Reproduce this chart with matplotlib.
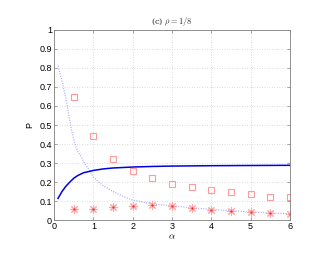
import matplotlib
matplotlib.use("Agg")
import matplotlib.pyplot as plt

# solid curve
sol_x = [0.1, 0.2, 0.3, 0.4, 0.5, 0.6, 0.75, 1.0, 1.25, 1.5, 2.0, 2.5, 3.0, 4.0, 5.0, 6.0]
sol_y = [0.114, 0.15, 0.178, 0.2, 0.22, 0.234, 0.249, 0.261, 0.269, 0.274, 0.279, 0.282, 0.284, 0.286, 0.287, 0.288]

# dotted curve
dot_x = [0.1, 0.2, 0.3, 0.4, 0.5, 0.6, 0.7, 0.8, 0.9, 1.0, 1.25, 1.5, 1.75, 2.0, 2.5, 3.0, 3.5, 4.0, 4.5, 5.0, 5.5, 6.0]
dot_y = [0.81, 0.73, 0.64, 0.52, 0.42, 0.36, 0.33, 0.29, 0.26, 0.225, 0.18, 0.15, 0.125, 0.105, 0.085, 0.075,
         0.065, 0.056, 0.049, 0.043, 0.038, 0.033]

# markers
alpha = [0.5, 1.0, 1.5, 2.0, 2.5, 3.0, 3.5, 4.0, 4.5, 5.0, 5.5, 6.0]
squares = [0.645, 0.44, 0.32, 0.258, 0.22, 0.19, 0.174, 0.158, 0.147, 0.138, 0.123, 0.12]
stars = [0.06, 0.058, 0.067, 0.072, 0.079, 0.074, 0.063, 0.053, 0.047, 0.042, 0.037, 0.032]

plt.rcParams["mathtext.fontset"] = "cm"
plt.rcParams["font.family"] = "Liberation Sans"

fig = plt.figure(figsize=(3.34, 2.58), dpi=100)
ax = fig.add_axes([0.162, 0.147, 0.706, 0.737])

ax.plot(dot_x, dot_y, color="#a8a8ff", linestyle=(0, (0.8, 1.2)), linewidth=0.9)
ax.plot(sol_x, sol_y, color="#0000e0", linewidth=1.1)
ax.plot(alpha, squares, linestyle="none", marker="s", markersize=5,
        markerfacecolor="none", markeredgecolor="#ff9a9a", markeredgewidth=0.8)
ax.plot(alpha, stars, linestyle="none", marker=(8, 2, 0), markersize=6,
        color="#ffaaaa", markeredgewidth=0.8)
ax.plot(alpha, stars, linestyle="none", marker="o", markersize=1.6,
        color="#e03030", markeredgewidth=0)

ax.set_xlim(0, 6)
ax.set_ylim(0, 1)
ax.set_xticks(range(0, 7))
ax.set_yticks([i / 10 for i in range(11)])
ax.set_yticklabels(["0", "0.1", "0.2", "0.3", "0.4", "0.5", "0.6", "0.7", "0.8", "0.9", "1"])
ax.tick_params(direction="in", length=2.5, width=0.5, labelsize=6.5, pad=1.5,
               top=True, right=True, colors="#808080", labelcolor="black")
ax.grid(True, linestyle=(0, (1, 2)), color="#d0d0d0", linewidth=0.6)
for s in ax.spines.values():
    s.set_color("#808080")
    s.set_linewidth(0.6)

ax.set_xlabel(r"$\alpha$", fontsize=7, labelpad=0)
ax.set_ylabel("P", fontsize=6.5, labelpad=4)
ax.set_title(r"(c) $\rho = 1/8$", fontsize=6, family="serif", color="#333333", pad=4)

fig.savefig("out.png", dpi=100)
